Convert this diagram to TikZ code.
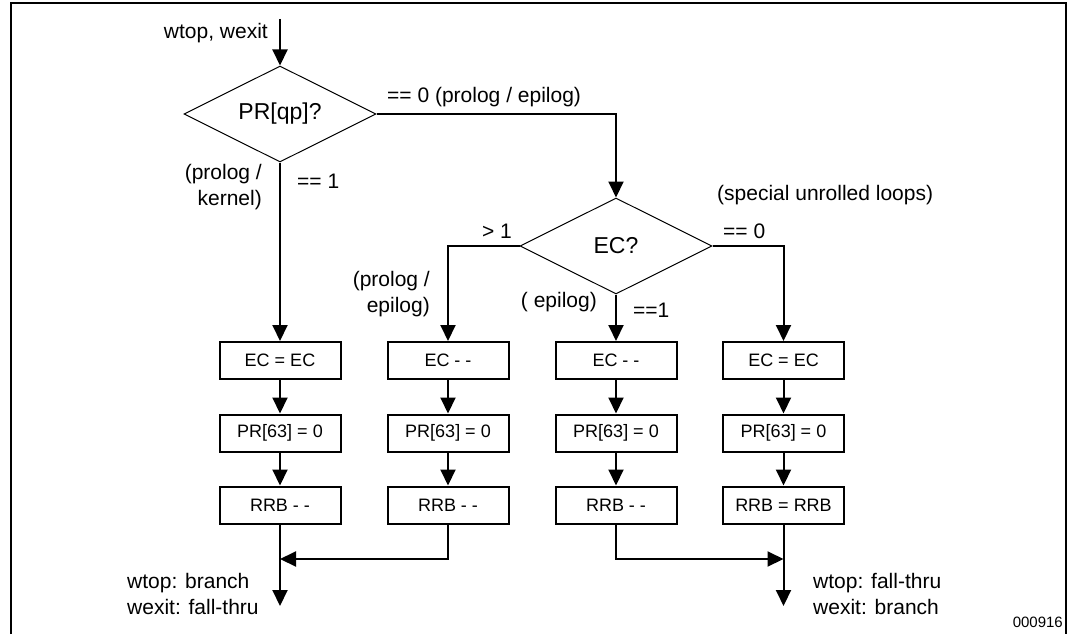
\documentclass[tikz,border=0pt]{standalone}
\usepackage{fontspec}
\setmainfont{Liberation Sans}
\usetikzlibrary{shapes.geometric,arrows.meta}
\begin{document}
\begin{tikzpicture}[x=1pt,y=-1pt,
  box/.style={draw, line width=2pt, minimum width=121pt, minimum height=37pt, inner sep=0pt, font=\fontsize{18}{20}\selectfont},
  dia/.style={draw, line width=1pt, shape=diamond, aspect=2, minimum width=192pt, minimum height=96pt, inner sep=0pt, font=\fontsize{23}{26}\selectfont},
  lbl/.style={inner sep=0pt, font=\fontsize{21}{26}\selectfont},
  conn/.style={line width=2pt},
  arr/.style={conn, -{Triangle[length=16pt,width=15pt]}},
]
\useasboundingbox (0,0) rectangle (1067,634);
\draw[line width=2pt] (10.5,634) -- (10.5,3.5) -- (1066,3.5) -- (1066,634);

\node[dia] (pr) at (280,114) {PR[qp]?};
\node[dia] (ec) at (616,246) {EC?};

\node[box] (b1) at (280,360.5) {EC = EC};
\node[box] (b2) at (448,360.5) {EC - -};
\node[box] (b3) at (616,360.5) {EC - -};
\node[box] (b4) at (783.5,360.5) {EC = EC};
\foreach \i/\x in {1/280,2/448,3/616,4/783.5}{
  \node[box] (p\i) at (\x,433) {PR[63] = 0};
}
\node[box] (r1) at (280,505) {RRB - -};
\node[box] (r2) at (448,505) {RRB - -};
\node[box] (r3) at (616,505) {RRB - -};
\node[box] (r4) at (783.5,505) {RRB = RRB};

\coordinate (start) at (280,19);
\coordinate (end1) at (280,606);
\coordinate (end2) at (783.5,606);
\coordinate (j1) at (280,559);
\coordinate (j2) at (783.5,559);

\draw[arr] (start) -- (pr.north);
\draw[arr] (pr.south) -- (b1.north);
\draw[arr] (pr.east) -| (ec.north);
\draw[arr] (ec.west) -| (b2.north);
\draw[arr] (ec.south) -- (b3.north);
\draw[arr] (ec.east) -| (b4.north);
\foreach \i in {1,2,3,4}{
  \draw[arr] (b\i.south) -- (p\i.north);
  \draw[arr] (p\i.south) -- (r\i.north);
}
\draw[arr] (r1.south) -- (end1);
\draw[arr] (r4.south) -- (end2);
\draw[arr] (r2.south) |- (j1);
\draw[arr] (r3.south) |- (j2);

\node[lbl, anchor=east] (lin) at (268,33) {wtop, wexit};
\node[lbl, anchor=west] (lzero) at (387,97) {== 0 (prolog / epilog)};
\node[lbl, anchor=east, align=right] (lpk) at (262,187.5) {(prolog /\\kernel)};
\node[lbl, anchor=west] (lone) at (297,181) {== 1};
\node[lbl, anchor=west] (lsp) at (717,195) {(special unrolled loops)};
\node[lbl, anchor=east] (lgt) at (512,231) {> 1};
\node[lbl, anchor=west] (lztwo) at (723,231) {== 0};
\node[lbl, anchor=east, align=right] (lpe) at (430,294) {(prolog /\\epilog)};
\node[lbl, anchor=east] (lep) at (597,302.5) {( epilog)};
\node[lbl, anchor=west] (leone) at (633,310) {==1};
\node[lbl, anchor=west, align=left] (lbone) at (127,594) {wtop: branch\\wexit: fall-thru};
\node[lbl, anchor=west, align=left] (lbtwo) at (813,594) {wtop: fall-thru\\wexit: branch};
\node[inner sep=0pt, anchor=east, font=\fontsize{15}{18}\selectfont] (id) at (1063,622) {000916};
\end{tikzpicture}
\end{document}
